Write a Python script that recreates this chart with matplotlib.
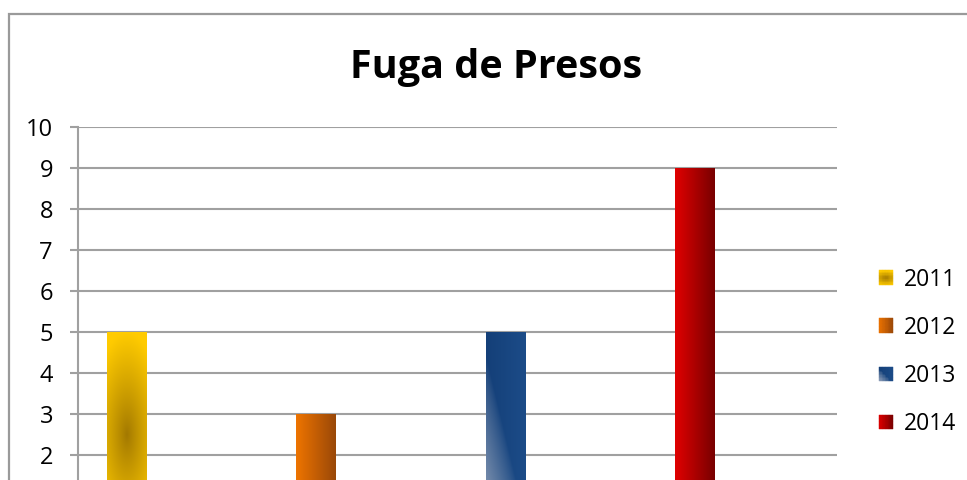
import numpy as np
import matplotlib
matplotlib.use('Agg')
import matplotlib.pyplot as plt
from matplotlib.patches import Rectangle
from matplotlib.legend_handler import HandlerBase
from matplotlib.colors import to_rgb

# ---- data ----
years = ['2011', '2012', '2013', '2014']
values = [5, 3, 5, 9]
yticks = list(range(2, 11))
title = 'Fuga de Presos'

FONT = 'Open Sans'


def c(h):
    return np.array(to_rgb(h))


def g2011(u, v):
    dark, light = c('#A27800'), c('#FFCB00')
    d = np.sqrt((0.55 * (u - 0.5) / 0.5) ** 2 + ((v - 0.5) / 0.5) ** 2)
    t = np.clip(d, 0, 1) ** 0.9
    return dark + (light - dark) * t[..., None]


def g2012(u, v):
    a, b = c('#EE7400'), c('#9A4808')
    t = u + 0 * v
    return a + (b - a) * t[..., None]


def g2014(u, v):
    a, b = c('#E00000'), c('#780000')
    t = u + 0 * v
    return a + (b - a) * t[..., None]


def g2013(u, v, legend=False):
    d1, d2, light = c('#143F78'), c('#1C4C88'), c('#94A4BC')
    base = d1 + (d2 - d1) * (u + 0 * v)[..., None]
    if legend:
        s = 0.7 * (u - 0.45) + 0.7 * (v - 0.45)
        t = np.clip(-s / 0.6, 0, 1)
    else:
        s = 0.52 * (u - 0.1) + 0.65 * (v - 0.8)
        t = np.clip(-s / 0.572, 0, 1)
    t = t ** 0.8
    return base + (light - base) * t[..., None]


funcs = [g2011, g2012, g2013, g2014]
legend_funcs = [g2011, g2012, lambda u, v: g2013(u, v, legend=True), g2014]

W, H = 967, 480
fig = plt.figure(figsize=(W / 100, H / 100), dpi=100)
fig.patch.set_facecolor('white')

# outer chart frame (cropped at right/bottom)
frame = Rectangle((9 / W, -0.2), 1.2, 1.2 - 14 / H, transform=fig.transFigure,
                  facecolor='none', edgecolor='#9A9A9A', lw=1.6, clip_on=False)
fig.patches.append(frame)

ax_left, ax_right = 78 / W, 837 / W
ax_top, ax_bot = 1 - 127 / H, 1 - 537 / H
ax = fig.add_axes([ax_left, ax_bot, ax_right - ax_left, ax_top - ax_bot])
ax.set_facecolor('none')

x = np.arange(len(years))
bw = 0.206
bars = ax.bar(x, values, width=bw, color='none', edgecolor='none', zorder=3)
for b, f in zip(bars, funcs):
    x0, y0 = b.get_x(), b.get_y()
    w, h = b.get_width(), b.get_height()
    uu, vv = np.meshgrid(np.linspace(0, 1, 60), np.linspace(0, 1, 300))
    img = f(uu, vv)
    im = ax.imshow(img, extent=[x0, x0 + w, y0, y0 + h], origin='lower',
                   aspect='auto', zorder=3, interpolation='bilinear')
    im.set_clip_path(b)

ax.set_xlim(-0.256, 3.753)
ax.set_ylim(0, 10)
ax.set_yticks(yticks)
ax.set_yticklabels([str(t) for t in yticks], fontsize=17, family=FONT)
ax.set_xticks([])
ax.grid(axis='y', color='#A0A0A0', lw=1.5, zorder=0)
ax.set_axisbelow(True)
for s in ['top', 'right', 'bottom']:
    ax.spines[s].set_visible(False)
ax.spines['left'].set_color('#A0A0A0')
ax.spines['left'].set_linewidth(1.5)
ax.tick_params(axis='y', length=6, width=1.5, color='#A0A0A0', pad=12)

fig.text(496 / W, 1 - 78 / H, title, ha='center', va='baseline',
         fontsize=28.5, fontweight='bold', family=FONT)


class GradHandler(HandlerBase):
    def __init__(self, func):
        super().__init__()
        self.func = func

    def create_artists(self, legend, orig_handle, xdescent, ydescent,
                       width, height, fontsize, trans):
        n = 10
        arts = []
        for i in range(n):
            for j in range(n):
                col = self.func(np.array([(i + 0.5) / n]), np.array([(j + 0.5) / n]))[0]
                r = Rectangle((-xdescent + i * width / n, -ydescent + j * height / n),
                              width / n, height / n, facecolor=col, edgecolor=col,
                              lw=0.3, transform=trans)
                arts.append(r)
        return arts


handles = [Rectangle((0, 0), 1, 1) for _ in years]
hmap = {h: GradHandler(f) for h, f in zip(handles, legend_funcs)}
leg = fig.legend(handles, years, handler_map=hmap, loc='center left',
                 bbox_to_anchor=(879 / W, 1 - 352 / H), frameon=False,
                 prop={'family': FONT, 'size': 16.5}, handlelength=0.62,
                 handleheight=0.62, handletextpad=0.45, labelspacing=1.05,
                 borderpad=0, borderaxespad=0)

fig.savefig('out.png', dpi=100)
